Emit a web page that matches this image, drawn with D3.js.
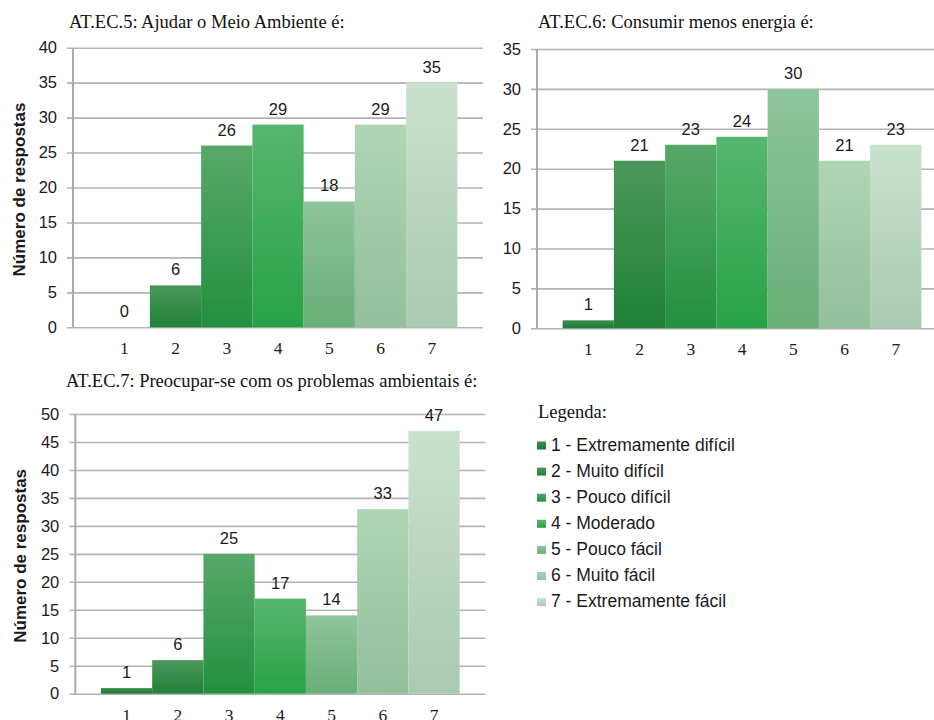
<!DOCTYPE html>
<html>
<head>
<meta charset="utf-8">
<script src="https://cdn.jsdelivr.net/npm/d3@7"></script>
<style>
  html, body { margin: 0; padding: 0; background: #fff; }
  svg { display: block; }
</style>
</head>
<body>
<svg id="chart" width="934" height="720"></svg>
<script>
// Response categories (Likert scale 1..7)
const categories = ["1", "2", "3", "4", "5", "6", "7"];

// Number of responses per category for each item
const valuesEC5 = [0, 6, 26, 29, 18, 29, 35];
const valuesEC6 = [1, 21, 23, 24, 30, 21, 23];
const valuesEC7 = [1, 6, 25, 17, 14, 33, 47];

// Titles and axis label
const titleEC5 = "AT.EC.5: Ajudar o Meio Ambiente é:";
const titleEC6 = "AT.EC.6: Consumir menos energia é:";
const titleEC7 = "AT.EC.7: Preocupar-se com os problemas ambientais é:";
const yAxisTitle = "Número de respostas";

// Y-axis tick values
const ticksEC5 = [0, 5, 10, 15, 20, 25, 30, 35, 40];
const ticksEC6 = [0, 5, 10, 15, 20, 25, 30, 35];
const ticksEC7 = [0, 5, 10, 15, 20, 25, 30, 35, 40, 45, 50];

// Legend
const legendTitle = "Legenda:";
const legendLabels = [
  "1 - Extremamente difícil",
  "2 - Muito difícil",
  "3 - Pouco difícil",
  "4 - Moderado",
  "5 - Pouco fácil",
  "6 - Muito fácil",
  "7 - Extremamente fácil"
];

// Gradient stops per category: [top, bottom]
const palette = [
  ["#3f8c50", "#1d7a33"],
  ["#4b975a", "#1f8137"],
  ["#57a868", "#22903f"],
  ["#57b66e", "#27a247"],
  ["#8fc59a", "#69ae78"],
  ["#afd5b5", "#93bf9b"],
  ["#c9e2cd", "#aacab2"]
];

const svg = d3.select("#chart");
const SERIF = "'Liberation Serif', 'Times New Roman', serif";
const SANS = "'Liberation Sans', Arial, sans-serif";
const GRID = "#b3b3b3";

// Vertical gradients, lighter on top
const defs = svg.append("defs");
palette.forEach((c, i) => {
  const g = defs.append("linearGradient")
    .attr("id", "grad" + i)
    .attr("x1", 0).attr("y1", 0).attr("x2", 0).attr("y2", 1);
  g.append("stop").attr("offset", "0%").attr("stop-color", c[0]);
  g.append("stop").attr("offset", "100%").attr("stop-color", c[1]);
});

function drawChart(opt) {
  const g = svg.append("g");

  const x = d3.scaleBand()
    .domain(categories)
    .range([opt.left, opt.right])
    .paddingInner(0)
    .paddingOuter(0.5);

  const y = d3.scaleLinear()
    .domain([0, d3.max(opt.ticks)])
    .range([opt.bottom, opt.top]);

  // Title
  g.append("text")
    .attr("x", opt.titleX)
    .attr("y", opt.titleY)
    .attr("font-family", SERIF)
    .attr("font-size", 18.5)
    .attr("fill", "#111")
    .text(opt.title);

  // Gridlines + y ticks
  const yAxis = d3.axisLeft(y)
    .tickValues(opt.ticks)
    .tickSize(-(opt.right - opt.left))
    .tickPadding(10)
    .tickFormat(d3.format("d"));

  const ya = g.append("g")
    .attr("transform", `translate(${opt.left},0)`)
    .call(yAxis);
  ya.select(".domain").remove();
  ya.selectAll(".tick line")
    .attr("x1", -6)
    .attr("stroke", GRID)
    .attr("stroke-width", 1.6);
  ya.selectAll(".tick text")
    .attr("x", -16)
    .attr("font-family", SANS)
    .attr("font-size", 16.5)
    .attr("fill", "#1a1a1a");

  // Vertical axis line
  g.append("line")
    .attr("x1", opt.left).attr("x2", opt.left)
    .attr("y1", y(d3.max(opt.ticks))).attr("y2", opt.bottom)
    .attr("stroke", "#aaaaaa")
    .attr("stroke-width", 2);

  // Bars
  g.selectAll("rect.bar")
    .data(opt.values)
    .join("rect")
    .attr("class", "bar")
    .attr("x", (d, i) => x(categories[i]))
    .attr("width", x.bandwidth())
    .attr("y", d => y(d))
    .attr("height", d => opt.bottom - y(d))
    .attr("fill", (d, i) => `url(#grad${i})`);

  // Value labels
  g.selectAll("text.val")
    .data(opt.values)
    .join("text")
    .attr("class", "val")
    .attr("x", (d, i) => x(categories[i]) + x.bandwidth() / 2)
    .attr("y", d => y(d) - 10)
    .attr("text-anchor", "middle")
    .attr("font-family", SANS)
    .attr("font-size", 16.5)
    .attr("fill", "#1a1a1a")
    .text(d => d);

  // X category labels
  const xAxis = d3.axisBottom(x).tickSize(0).tickPadding(0);
  const xa = g.append("g")
    .attr("transform", `translate(0,${opt.bottom})`)
    .call(xAxis);
  xa.select(".domain").remove();
  xa.selectAll(".tick text")
    .attr("y", 27)
    .attr("dy", 0)
    .attr("font-family", SERIF)
    .attr("font-size", 17.5)
    .attr("fill", "#1a1a1a");

  // Y-axis title
  if (opt.yTitle) {
    g.append("text")
      .attr("transform", `translate(${opt.yTitleX},${(opt.top + opt.bottom) / 2 + 2}) rotate(-90)`)
      .attr("text-anchor", "middle")
      .attr("font-family", SANS)
      .attr("font-weight", "bold")
      .attr("font-size", 17)
      .attr("fill", "#1a1a1a")
      .text(opt.yTitle);
  }
}

drawChart({
  title: titleEC5, titleX: 69, titleY: 28,
  values: valuesEC5, ticks: ticksEC5,
  left: 73, right: 483, top: 47.7, bottom: 327.3,
  yTitle: yAxisTitle, yTitleX: 25
});

drawChart({
  title: titleEC6, titleX: 538, titleY: 28,
  values: valuesEC6, ticks: ticksEC6,
  left: 537, right: 947, top: 49, bottom: 328.3
});

drawChart({
  title: titleEC7, titleX: 66, titleY: 387,
  values: valuesEC7, ticks: ticksEC7,
  left: 75.3, right: 485.3, top: 414, bottom: 693.7,
  yTitle: yAxisTitle, yTitleX: 26
});

// Legend
const legend = svg.append("g");
legend.append("text")
  .attr("x", 538).attr("y", 418)
  .attr("font-family", SERIF)
  .attr("font-size", 18.5)
  .attr("fill", "#111")
  .text(legendTitle);

const items = legend.selectAll("g.item")
  .data(legendLabels)
  .join("g")
  .attr("class", "item")
  .attr("transform", (d, i) => `translate(537,${450.5 + i * 26.1})`);

items.append("rect")
  .attr("x", 0).attr("y", -9)
  .attr("width", 9).attr("height", 8)
  .attr("fill", (d, i) => `url(#grad${i})`);

items.append("text")
  .attr("x", 14).attr("y", 0)
  .attr("font-family", SANS)
  .attr("font-size", 17.5)
  .attr("fill", "#1a1a1a")
  .text(d => d);
</script>
</body>
</html>
